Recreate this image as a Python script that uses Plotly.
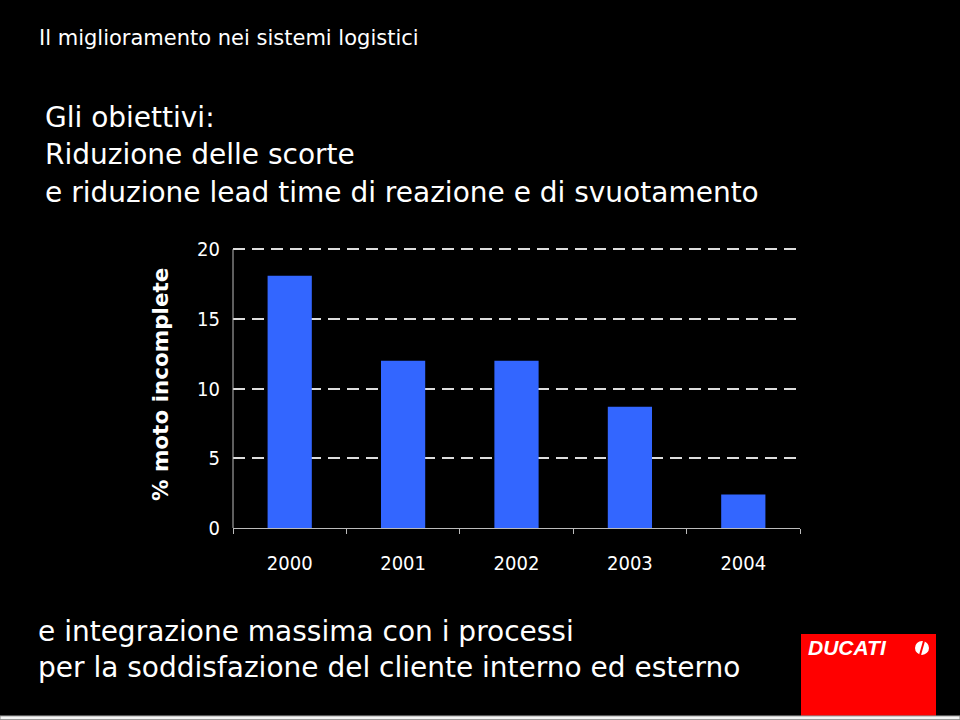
import plotly.graph_objects as go

years = ["2000", "2001", "2002", "2003", "2004"]
pct_incomplete = [18.1, 12.0, 12.0, 8.7, 2.4]
y_ticks = [0, 5, 10, 15, 20]

page_title = "Il miglioramento nei sistemi logistici"
head_lines = ["Gli obiettivi:", "Riduzione delle scorte",
              "e riduzione lead time di reazione e di svuotamento"]
foot_lines = ["e integrazione massima con i processi",
              "per la soddisfazione del cliente interno ed esterno"]
y_title = "% moto incomplete"

W, H = 960, 720
Y_TOP = 20.3
L, R, B = 233, 800, 528
T = B - 279 * Y_TOP / 20


def px(x):
    return (x - L) / (R - L)


def py(y):
    return (B - y) / (B - T)


fig = go.Figure(go.Bar(x=years, y=pct_incomplete, marker_color="#3366ff",
                       marker_line_width=0, width=0.39))

text_font = "DejaVu Sans, sans-serif"
logo_font = "Liberation Sans, Arial, sans-serif"
tick_font = "DejaVu Sans Condensed, Liberation Sans, sans-serif"
ann = []
ann.append(dict(text=page_title, x=px(37), y=py(38), xanchor="left", yanchor="middle",
                font=dict(family=text_font, size=21, color="white")))
for i, t in enumerate(head_lines):
    ann.append(dict(text=t, x=px(43), y=py(117 + 37.5 * i), xanchor="left", yanchor="middle",
                    font=dict(family=text_font, size=28, color="white")))
for i, t in enumerate(foot_lines):
    ann.append(dict(text=t, x=px(36), y=py(632 + 36 * i), xanchor="left", yanchor="middle",
                    font=dict(family=text_font, size=28, color="white")))
ann.append(dict(text=y_title, x=px(160), y=py(384), xanchor="center", yanchor="middle",
                textangle=-90,
                font=dict(family="DejaVu Sans, sans-serif", size=21.5, color="white", weight="bold")))
ann.append(dict(text="<b><i>DUCATI</i></b>", x=px(806), y=py(648), xanchor="left", yanchor="middle",
                font=dict(family=logo_font, size=21, color="white")))
for a in ann:
    a.update(xref="paper", yref="paper", showarrow=False)

shapes = [
    dict(type="rect", x0=px(801), x1=px(936), y0=py(716), y1=py(634),
         fillcolor="#ff0000", line_width=0),
    dict(type="rect", x0=px(0), x1=px(960), y0=py(720), y1=py(716),
         fillcolor="#f4f4f4", line=dict(color="#888888", width=1)),
    dict(type="circle", x0=px(915), x1=px(929), y0=py(655), y1=py(641),
         fillcolor="white", line_width=0),
    dict(type="line", x0=px(924), x1=px(920), y0=py(641), y1=py(655),
         line=dict(color="#ff0000", width=2)),
    # y axis line only from 0 to 20
    dict(type="line", xref="paper", yref="y", x0=0, x1=0, y0=0, y1=y_ticks[-1],
         line=dict(color="#bbbbbb", width=1)),
]
for s in shapes:
    s.setdefault("xref", "paper")
    s.setdefault("yref", "paper")
    s["layer"] = "above"

fig.update_layout(
    width=W, height=H,
    margin=dict(l=L, r=W - R, t=T, b=H - B),
    paper_bgcolor="black", plot_bgcolor="black",
    showlegend=False,
    bargap=0.61,
    annotations=ann, shapes=shapes,
    xaxis=dict(showgrid=False, showline=True, linecolor="#bbbbbb", linewidth=1,
               ticks="outside", tickson="boundaries", ticklen=5, tickcolor="#bbbbbb",
               tickfont=dict(family=tick_font, size=20, color="white"),
               ticklabelstandoff=17),
    yaxis=dict(range=[0, Y_TOP], tickvals=y_ticks, showgrid=True, gridcolor="#dddddd",
               gridwidth=2, griddash="12px,7px", zeroline=False,
               showline=False, ticks="",
               tickfont=dict(family=tick_font, size=20, color="white"),
               ticklabelstandoff=12),
)

fig.write_html("out.html")
